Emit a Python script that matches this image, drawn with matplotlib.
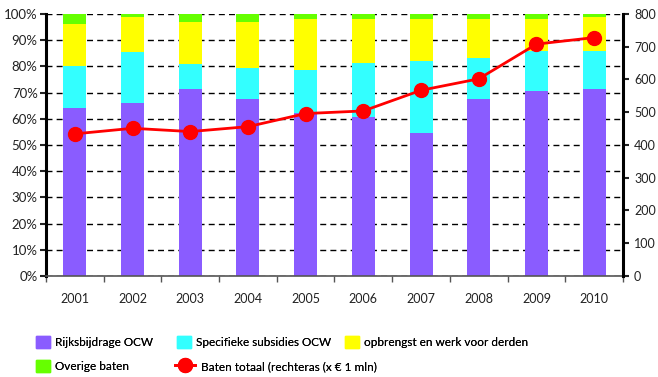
import matplotlib
matplotlib.use("Agg")
import matplotlib.pyplot as plt
import numpy as np
from matplotlib.ticker import FuncFormatter, MultipleLocator, FixedLocator
from matplotlib.lines import Line2D
from matplotlib.patches import Patch

plt.rcParams['font.family'] = ['Lato', 'DejaVu Sans']

years = ['2001', '2002', '2003', '2004', '2005', '2006', '2007', '2008', '2009', '2010']
# aandelen (fractie van totaal)
rijks = [0.641, 0.660, 0.714, 0.674, 0.621, 0.607, 0.547, 0.674, 0.707, 0.714]
specifiek = [0.159, 0.195, 0.094, 0.121, 0.166, 0.207, 0.274, 0.159, 0.153, 0.146]
derden = [0.162, 0.135, 0.160, 0.173, 0.194, 0.167, 0.160, 0.148, 0.121, 0.130]
overig = [0.038, 0.010, 0.032, 0.032, 0.019, 0.019, 0.019, 0.019, 0.019, 0.010]
# baten totaal x EUR 1 mln
totaal = [434, 451, 441, 456, 496, 504, 567, 602, 708, 728]

c_rijks = '#8a5cff'
c_spec = '#33ffff'
c_derden = '#ffff00'
c_overig = '#66ff00'
c_red = '#ff0000'

fig = plt.figure(figsize=(6.58, 3.77), dpi=100)
ax = fig.add_axes([0.0699, 0.2679, 0.8769, 0.695])

x = np.arange(len(years))
w = 0.4
bottom = np.zeros(len(years))
for vals, col in [(rijks, c_rijks), (specifiek, c_spec), (derden, c_derden), (overig, c_overig)]:
    ax.bar(x, vals, w, bottom=bottom, color=col, zorder=2, linewidth=0)
    bottom = bottom + np.array(vals)

ax.set_xlim(-0.5, len(years) - 0.5)
ax.set_ylim(0, 1)
ax.yaxis.set_major_locator(MultipleLocator(0.1))
ax.yaxis.set_major_formatter(FuncFormatter(lambda v, p: '%d%%' % round(v * 100)))
ax.grid(axis='y', color='black', linestyle=(0, (4.3, 3.0)), linewidth=1.0, zorder=0)
ax.set_axisbelow(True)

ax.set_xticks(x)
ax.set_xticklabels(years)
ax.xaxis.set_minor_locator(FixedLocator(np.arange(-0.5, len(years), 1.0)))
ax.tick_params(axis='x', which='major', length=0, pad=12, labelsize=9, colors='#222222')
ax.tick_params(axis='x', which='minor', length=4, width=1, color='#555555')
ax.tick_params(axis='y', length=4, width=1.5, pad=2, labelsize=9.5, colors='#222222')

ax.spines['top'].set_visible(False)
ax.spines['right'].set_visible(False)
ax.spines['left'].set_linewidth(2.2)
ax.spines['bottom'].set_color('#555555')
ax.spines['bottom'].set_linewidth(1.2)

ax2 = ax.twinx()
ax2.plot(x, totaal, color=c_red, linewidth=2, marker='o', markersize=10, zorder=3)
ax2.set_ylim(0, 800)
ax2.yaxis.set_major_locator(MultipleLocator(100))
ax2.tick_params(axis='y', length=4, width=1.5, pad=4, labelsize=9, colors='#222222')
for s in ['top', 'left', 'bottom']:
    ax2.spines[s].set_visible(False)
ax2.spines['right'].set_linewidth(2.2)


# legenda: elk item apart geplaatst (px-coordinaten van links/boven)
def add_item(handle, label, px, py, hl=1.15):
    leg = fig.legend([handle], [label], loc='center left',
                     bbox_to_anchor=(px / 658, 1 - py / 377),
                     frameon=False, fontsize=8.5, handlelength=hl, handleheight=1.15,
                     handletextpad=0.5, borderaxespad=0, borderpad=0)
    fig.add_artist(leg)


add_item(Patch(color=c_rijks), 'Rijksbijdrage OCW', 36, 342)
add_item(Patch(color=c_spec), 'Specifieke subsidies OCW', 177, 342)
add_item(Patch(color=c_derden), 'opbrengst en werk voor derden', 345, 342)
add_item(Patch(color=c_overig), 'Overige baten', 36, 366)
add_item(Line2D([], [], color=c_red, linewidth=2, marker='o', markersize=10),
         'Baten totaal (rechteras (x € 1 mln)', 175, 366, hl=1.7)

fig.savefig('out.png', dpi=100)
